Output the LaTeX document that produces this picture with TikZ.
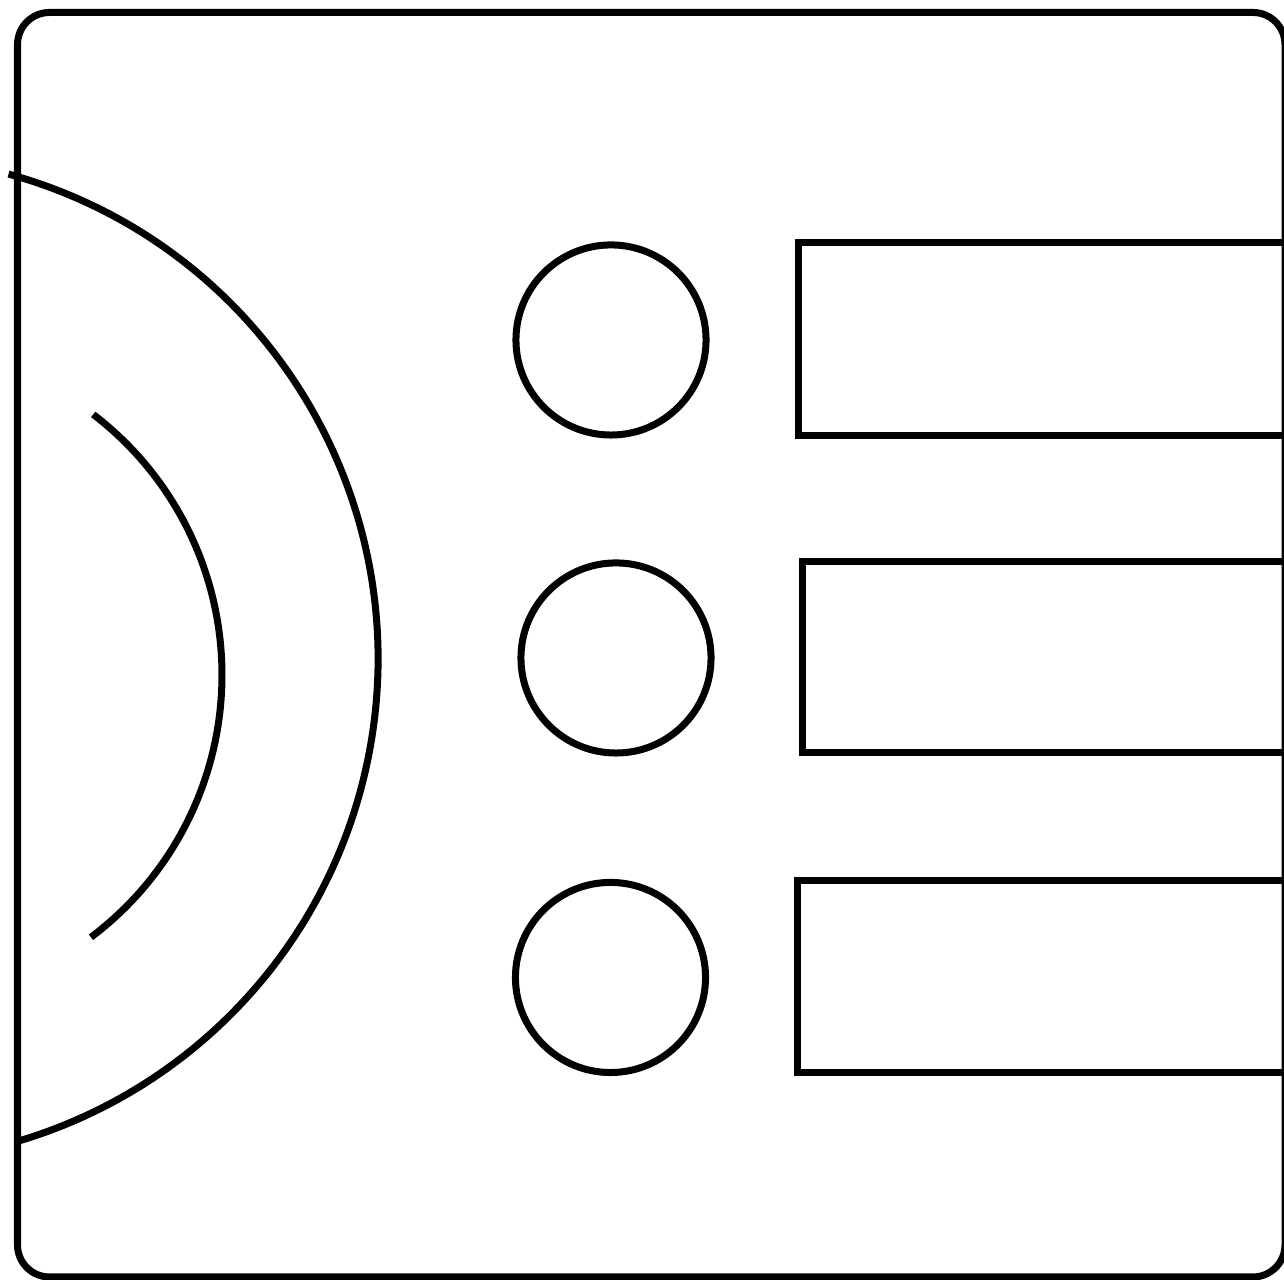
\documentclass[tikz,border=0pt]{standalone}
\usepackage{tikz}

\begin{document}
\begin{tikzpicture}[x=0.01cm, y=0.01cm, line width=0.07cm,
  dot/.style={draw, circle, inner sep=0pt, minimum size=1.9cm},
  bar/.style={draw, rectangle, inner sep=0pt, outer sep=0pt, anchor=west,
    minimum width=6cm}]
  \useasboundingbox (0,0) rectangle (1284,1280);
  \clip (0,0) rectangle (1284,1280);
  % frame
  \draw[rounded corners=0.32cm] (17.5,3) rectangle (1285,1267.5);
  % arcs on the left
  \draw (-125,621) ++(74.6:503) arc[start angle=74.6, end angle=-73.5, radius=503];
  \draw (-106,605) ++(52.6:328) arc[start angle=52.6, end angle=-53.1, radius=328];
  % circles
  \node[dot] (dot1) at (611,940) {};
  \node[dot] (dot2) at (616,622) {};
  \node[dot] (dot3) at (610.5,302.5) {};
  % bars
  \node[bar, minimum height=1.92cm] (bar1) at (798,941) {};
  \node[bar, minimum height=1.90cm] (bar2) at (802,623) {};
  \node[bar, minimum height=1.91cm] (bar3) at (797,303.5) {};
\end{tikzpicture}
\end{document}
